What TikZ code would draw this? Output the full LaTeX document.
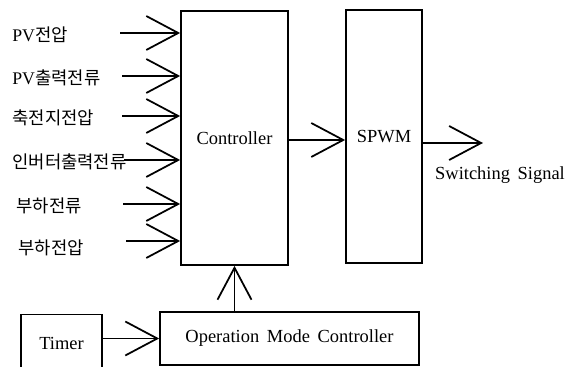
\documentclass[tikz,border=0pt]{standalone}
\usepackage{fontspec}
\setmainfont{Liberation Serif}
\newfontfamily\kr{Noto Sans CJK KR}
\usetikzlibrary{arrows.meta, calc, positioning}

\begin{document}
\begin{tikzpicture}[
    x=0.02cm, y=-0.02cm,
    blk/.style={draw, line width=1pt, font=\fontsize{10.5}{12}\selectfont, inner sep=0pt},
    inlab/.style={anchor=west, inner sep=0pt, font=\fontsize{10.1}{12}\selectfont},
    arr/.style={-{Straight Barb[length=0.64cm, width=0.68cm, line width=1pt]}, line width=1pt}
]

% rand
\useasboundingbox (0,0) rectangle (585,367);

% bloekke
\node[blk, minimum width=2.14cm, minimum height=5.08cm] (ctrl) at (234.5,138) {Controller};
\node[blk, minimum width=1.52cm, minimum height=5.06cm] (spwm) at (384,136.5) {SPWM};
\node[blk, minimum width=5.18cm, minimum height=1.06cm] (omc) at (289.5,338.5) {Operation\, Mode\, Controller};
\node[blk, minimum width=1.62cm, minimum height=1.14cm] (timer) at (61.5,343) {Timer};

% indgange
\node[inlab] (in1) at (12,35) {PV{\kr 전압}};
\node[inlab] (in2) at (12,78) {PV{\kr 출력전류}};
\node[inlab] (in3) at (12,118) {\kr 축전지전압};
\node[inlab] (in4) at (12,162) {\kr 인버터출력전류};
\node[inlab] (in5) at (16,206) {\kr 부하전류};
\node[inlab] (in6) at (18,248) {\kr 부하전압};

\coordinate (s1) at (120,33);
\coordinate (s2) at (122,76);
\coordinate (s3) at (122,116);
\coordinate (s4) at (124,160);
\coordinate (s5) at (123,204);
\coordinate (s6) at (126,241);

\draw[arr] (s1) -- (s1 -| ctrl.west);
\draw[arr] (s2) -- (s2 -| ctrl.west);
\draw[arr] (s3) -- (s3 -| ctrl.west);
\draw[arr] (s4) -- (s4 -| ctrl.west);
\draw[arr] (s5) -- (s5 -| ctrl.west);
\draw[arr] (s6) -- (s6 -| ctrl.west);

% forbindelser
\coordinate (sw) at (483,143);
\draw[arr] (ctrl.east |- 0,140) -- (spwm.west |- 0,140);
\draw[arr] (spwm.east |- sw) -- (sw);
\node[font=\fontsize{10.5}{12}\selectfont] (swlab) at (500,175) {Switching\, Signal};

\draw[arr] (ctrl.south |- omc.north) -- (ctrl.south);
\draw[arr] (omc.west -| timer.east) -- (omc.west);

\end{tikzpicture}
\end{document}
